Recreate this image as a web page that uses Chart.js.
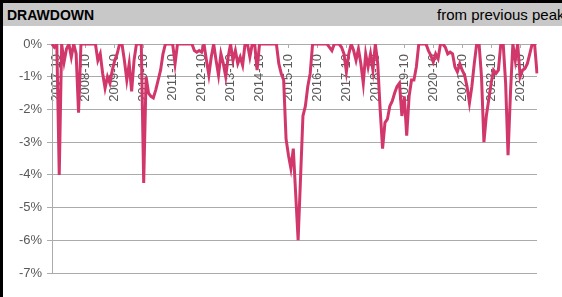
<!DOCTYPE html>
<html>
<head>
<meta charset="utf-8">
<script src="https://cdn.jsdelivr.net/npm/chart.js@4.4.1/dist/chart.umd.min.js"></script>
<style>
  html, body { margin: 0; padding: 0; background: #fff; }
  #wrap { position: relative; width: 562px; height: 297px; overflow: hidden; font-family: "Liberation Sans", Arial, sans-serif; }
  #chart { position: absolute; left: 0; top: 0; }
  #head { position: absolute; left: 0; top: 3px; width: 562px; height: 23px; background: #c8c8c8; overflow: hidden; }
  #title { position: absolute; left: 7px; top: 4px; font-size: 14px; font-weight: bold; color: #000; }
  #sub { position: absolute; left: 437px; top: 3px; font-size: 15px; color: #000; white-space: nowrap; }
  #bTop { position: absolute; left: 0; top: 0; width: 562px; height: 3px; background: #000; }
  #bLeft { position: absolute; left: 0; top: 0; width: 3px; height: 297px; background: #000; }
</style>
</head>
<body>
<div id="wrap">
  <canvas id="chart" width="562" height="297"></canvas>
  <div id="head"><span id="title">DRAWDOWN</span><span id="sub">from previous peak</span></div>
  <div id="bTop"></div>
  <div id="bLeft"></div>
</div>
<script>
// monthly drawdown (%), first month 2007-08
const START_YEAR = 2007, START_MONTH = 8;
const drawdown = [
  0, -0.1, 0, -4.0, 0, -0.55, -0.15, 0, -0.4, 0, -0.3, -2.1,          // 2007-08 .. 2008-07
  0, 0, 0, 0, 0, 0, 0, -0.5, -0.3, -0.9, -1.35, -1.0,                  // 2008-08 .. 2009-07
  -1.2, -0.8, -0.5, -0.3, 0, 0, -0.5, -1.1, -0.6, -1.45, -0.5, 0,      // 2009-08 .. 2010-07
  0, 0, -4.25, -1.0, -1.5, -1.6, -1.65, -1.4, -1.1, -0.8, -0.3, 0,     // 2010-08 .. 2011-07
  0, 0, 0, -0.6, 0, 0, 0, 0, 0, 0, 0, -0.2,                            // 2011-08 .. 2012-07
  -0.25, -0.2, -0.25, 0, -0.5, -0.95, -0.4, 0, -0.5, -0.95, -0.3, -0.6, // 2012-08 .. 2013-07
  -1.0, -0.4, 0, -0.5, -0.2, -0.6, -0.4, -0.65, 0, 0, -0.4, 0,         // 2013-08 .. 2014-07
  0, -0.8, 0, 0, 0, 0, 0, 0, 0, 0, -0.6, -0.9,                         // 2014-08 .. 2015-07
  -1.1, -2.9, -3.4, -3.8, -3.2, -4.6, -6.0, -4.1, -2.2, -1.9, -1.3, -0.9, // 2015-08 .. 2016-07
  0, 0, 0, 0, 0, 0, 0, -0.1, -0.2, 0, 0, 0,                            // 2016-08 .. 2017-07
  -0.1, -0.3, -0.85, -0.3, 0, -0.2, -0.5, -0.15, -0.6, -1.2, -0.3, -0.7, // 2017-08 .. 2018-07
  -0.3, -0.8, 0, -0.6, -2.0, -3.2, -2.4, -2.3, -1.9, -1.75, -1.5, -1.3, // 2018-08 .. 2019-07
  -1.2, -2.2, -1.6, -2.8, -1.6, -1.1, -1.1, -0.7, 0, 0, 0, 0,          // 2019-08 .. 2020-07
  -0.2, -0.35, -0.55, -0.3, -0.45, 0, 0, -0.1, -0.3, -0.25, -0.3, -0.7, // 2020-08 .. 2021-07
  -0.85, -0.6, -0.8, -0.95, -1.3, -1.8, -1.3, -0.6, 0, 0, -1.0, -3.0,  // 2021-08 .. 2022-07
  -2.2, -1.7, -1.2, -0.8, -0.9, -0.8, 0, 0, -1.2, -3.4, -1.5, 0,       // 2022-08 .. 2023-07
  -0.5, 0, -1.0, -0.8, -0.75, -0.6, -0.3, 0, 0, -0.9                   // 2023-08 .. 2024-05
];
const months = [];
for (let i = 0; i < drawdown.length; i++) {
  const m = START_MONTH - 1 + i;
  const y = START_YEAR + Math.floor(m / 12);
  months.push(y + '-' + String(m % 12 + 1).padStart(2, '0'));
}
const yTicks = [0, -1, -2, -3, -4, -5, -6, -7];

const gridGrey = '#ababab';
const textGrey = '#595959';
const tickFont = { family: '"Liberation Sans", Arial, sans-serif', size: 13 };

new Chart(document.getElementById('chart'), {
  type: 'line',
  data: {
    labels: months,
    datasets: [{
      data: drawdown,
      borderColor: '#d1376b',
      borderWidth: 3,
      pointRadius: 0,
      tension: 0,
      fill: false
    }]
  },
  options: {
    responsive: false,
    animation: false,
    devicePixelRatio: 1,
    layout: { padding: { top: 44, right: 25, bottom: 24, left: 0 } },
    plugins: { legend: { display: false }, tooltip: { enabled: false } },
    scales: {
      x: {
        type: 'category',
        position: { y: 0 },
        offset: false,
        afterBuildTicks: s => { s.ticks = s.ticks.filter(t => months[t.value].endsWith('-10')); },
        grid: { display: true, drawOnChartArea: false, color: gridGrey, tickLength: 4 },
        border: { display: false },
        ticks: { autoSkip: false, minRotation: 90, maxRotation: 90, padding: 6, color: textGrey, font: tickFont }
      },
      y: {
        min: -7, max: 0,
        afterFit: s => { s.width = 52; },
        afterBuildTicks: s => { s.ticks = yTicks.map(v => ({ value: v })); },
        grid: { color: gridGrey, lineWidth: 1, tickLength: 5 },
        border: { color: gridGrey, width: 1 },
        ticks: { padding: 5, color: textGrey, font: tickFont, callback: v => v + '%' }
      }
    }
  }
});
</script>
</body>
</html>
